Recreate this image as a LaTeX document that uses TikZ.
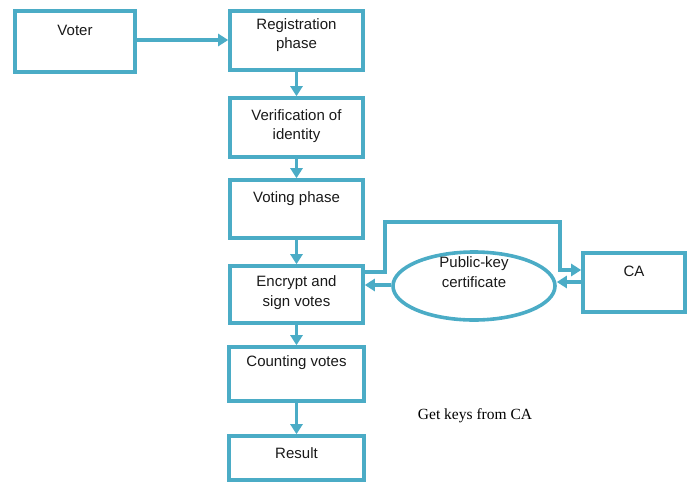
\documentclass[tikz,border=0pt]{standalone}
\usepackage{fontspec}
\setmainfont{Liberation Sans}
\newfontfamily\serifnote{Liberation Serif}
\usetikzlibrary{arrows.meta,shapes.geometric}
\definecolor{flowblue}{HTML}{4BACC6}
\begin{document}
\begin{tikzpicture}[x=1pt,y=-1pt,
  box/.style={draw=flowblue,line width=3.6pt,rectangle,inner sep=0pt},
  txt/.style={font=\fontsize{15}{19.5}\selectfont,align=center,inner sep=0pt,text=black!90},
  link/.style={draw=flowblue,line width=3.2pt,-{Triangle[length=10pt,width=12pt]}}]
\useasboundingbox (0,0) rectangle (691,483);
% process boxes
\node[box,minimum width=120pt,minimum height=61pt] (voter) at (75,41.5) {};
\node[box,minimum width=133pt,minimum height=59pt] (reg) at (296.5,40.5) {};
\node[box,minimum width=133pt,minimum height=59pt] (verif) at (296.5,127.5) {};
\node[box,minimum width=133pt,minimum height=58pt] (vote) at (296.5,209) {};
\node[box,minimum width=133pt,minimum height=57pt] (enc) at (296.5,294.5) {};
\node[box,minimum width=135pt,minimum height=54pt] (count) at (296.5,374) {};
\node[box,minimum width=135pt,minimum height=44pt] (res) at (296.5,458) {};
\node[box,ellipse,minimum width=162pt,minimum height=68pt] (cert) at (474,286) {};
\node[box,minimum width=102pt,minimum height=59pt] (ca) at (634,282.5) {};
% box texts
\node[txt] (voterT) at (75,30) {Voter};
\node[txt] (regT) at (296.5,35) {Registration\\phase};
\node[txt] (verifT) at (296.5,126) {Verification of\\identity};
\node[txt] (voteT) at (296.5,199) {Voting phase};
\node[txt] (encT) at (296.5,292.5) {Encrypt and\\sign votes};
\node[txt] (certT) at (474,272) {Public-key\\certificate};
\node[txt] (caT) at (634,271) {CA};
\node[txt] (countT) at (296.5,363) {Counting votes};
\node[txt] (resT) at (296.5,453) {Result};
\node[font=\serifnote\fontsize{15.5}{18}\selectfont,inner sep=0pt] (note) at (475,416) {Get keys from CA};
% connectors
\draw[link] (voter.east |- 0,40) -- (reg.west |- 0,40);
\draw[link] (reg) -- (verif);
\draw[link] (verif) -- (vote);
\draw[link] (vote) -- (enc);
\draw[link] (enc) -- (count);
\draw[link] (count) -- (res);
\coordinate (up1) at (385,222);
\coordinate (up2) at (560,222);
\draw[link] (enc.east |- 0,272) -- (up1 |- 0,272) -- (up1) -- (up2) -- (up2 |- 0,270) -- (ca.west |- 0,270);
\draw[link] (ca.west |- 0,282) -- (cert.east |- 0,282);
\draw[link] (cert.west |- 0,285) -- (enc.east |- 0,285);
\end{tikzpicture}
\end{document}
